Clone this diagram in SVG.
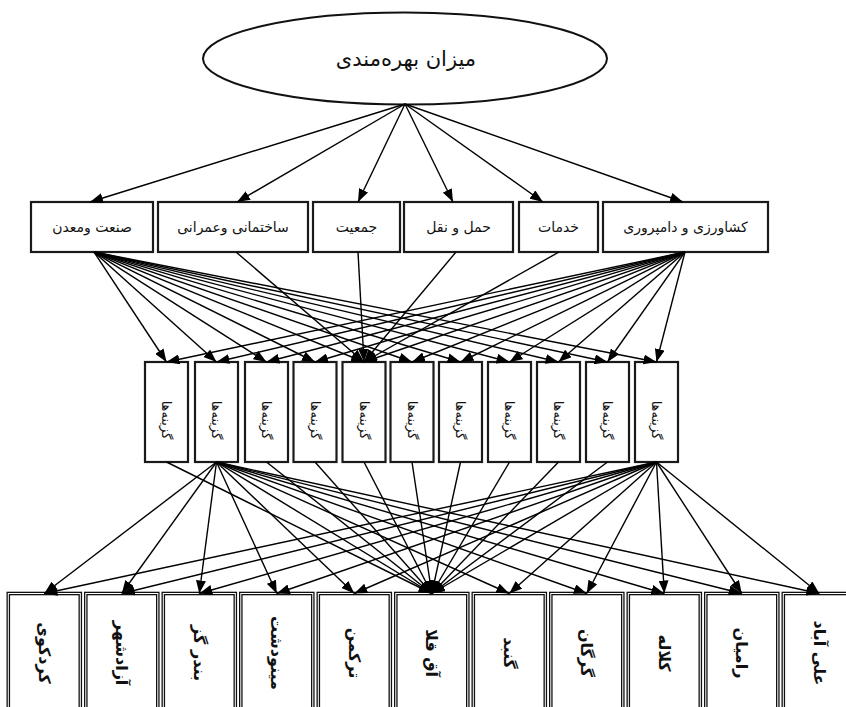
<svg xmlns="http://www.w3.org/2000/svg" width="846" height="707" viewBox="0 0 846 707">
<style>
text{font-family:"DejaVu Sans","Noto Sans",sans-serif;fill:#111;text-anchor:middle;dominant-baseline:central;direction:rtl}
.box{fill:#fff;stroke:#1a1a1a;stroke-width:2.2}
.bb{fill:#fff;stroke:#111;stroke-width:3.6}
.bbi{fill:none;stroke:#fff;stroke-width:1}
.c line{stroke:#000;stroke-width:1.4;marker-end:url(#ah)}
.t1{font-size:21px}
.t2{font-size:14px}
.t3{font-size:13px}
.t4{font-size:16px;font-weight:bold}
</style>
<defs>
<marker id="ah" markerUnits="userSpaceOnUse" markerWidth="13" markerHeight="10" refX="13" refY="5" orient="auto">
<path d="M0,0 L13,5 L0,10 z" fill="#000"/>
</marker>
</defs>
<rect width="846" height="707" fill="#fff"/>
<g id="root"><ellipse cx="405" cy="58.5" rx="202" ry="46" fill="#fff" stroke="#111" stroke-width="2"/><text class="t1" x="406" y="59">میزان بهره‌مندی</text></g>
<g id="crit1"><rect class="box" x="31" y="202" width="122" height="50"/><text class="t2" x="92" y="227">صنعت ومعدن</text></g>
<g id="crit2"><rect class="box" x="158" y="202" width="150" height="50"/><text class="t2" x="233" y="227">ساختمانی وعمرانی</text></g>
<g id="crit3"><rect class="box" x="313" y="202" width="87" height="50"/><text class="t2" x="356.5" y="227">جمعیت</text></g>
<g id="crit4"><rect class="box" x="404" y="202" width="109" height="50"/><text class="t2" x="458.5" y="227">حمل و نقل</text></g>
<g id="crit5"><rect class="box" x="519" y="202" width="79" height="50"/><text class="t2" x="558.5" y="227">خدمات</text></g>
<g id="crit6"><rect class="box" x="603" y="202" width="165" height="50"/><text class="t2" x="685.5" y="227">کشاورزی و دامپروری</text></g>
<g id="opt1"><rect class="box" x="145" y="362" width="43" height="100"/><text class="t3" transform="translate(166.5,420) rotate(90)">گزینه‌ها</text></g>
<g id="opt2"><rect class="box" x="195" y="362" width="43" height="100"/><text class="t3" transform="translate(216.5,420) rotate(90)">گزینه‌ها</text></g>
<g id="opt3"><rect class="box" x="245" y="362" width="43" height="100"/><text class="t3" transform="translate(266.5,420) rotate(90)">گزینه‌ها</text></g>
<g id="opt4"><rect class="box" x="293.5" y="362" width="43" height="100"/><text class="t3" transform="translate(315,420) rotate(90)">گزینه‌ها</text></g>
<g id="opt5"><rect class="box" x="342.5" y="362" width="43" height="100"/><text class="t3" transform="translate(364,420) rotate(90)">گزینه‌ها</text></g>
<g id="opt6"><rect class="box" x="390.5" y="362" width="43" height="100"/><text class="t3" transform="translate(412,420) rotate(90)">گزینه‌ها</text></g>
<g id="opt7"><rect class="box" x="439" y="362" width="43" height="100"/><text class="t3" transform="translate(460.5,420) rotate(90)">گزینه‌ها</text></g>
<g id="opt8"><rect class="box" x="488" y="362" width="43" height="100"/><text class="t3" transform="translate(509.5,420) rotate(90)">گزینه‌ها</text></g>
<g id="opt9"><rect class="box" x="537" y="362" width="43" height="100"/><text class="t3" transform="translate(558.5,420) rotate(90)">گزینه‌ها</text></g>
<g id="opt10"><rect class="box" x="586" y="362" width="43" height="100"/><text class="t3" transform="translate(607.5,420) rotate(90)">گزینه‌ها</text></g>
<g id="opt11"><rect class="box" x="635" y="362" width="43" height="100"/><text class="t3" transform="translate(656.5,420) rotate(90)">گزینه‌ها</text></g>
<g id="city1"><rect class="bb" x="8.3" y="593.5" width="72" height="130"/><rect class="bbi" x="8.3" y="593.5" width="72" height="130"/><text class="t4" transform="translate(44.3,653) rotate(90)">کردکوی</text></g>
<g id="city2"><rect class="bb" x="85.8" y="593.5" width="72" height="130"/><rect class="bbi" x="85.8" y="593.5" width="72" height="130"/><text class="t4" transform="translate(121.8,653) rotate(90)">آزادشهر</text></g>
<g id="city3"><rect class="bb" x="163.3" y="593.5" width="72" height="130"/><rect class="bbi" x="163.3" y="593.5" width="72" height="130"/><text class="t4" transform="translate(199.3,653) rotate(90)">بندر گز</text></g>
<g id="city4"><rect class="bb" x="240.8" y="593.5" width="72" height="130"/><rect class="bbi" x="240.8" y="593.5" width="72" height="130"/><text class="t4" transform="translate(276.8,653) rotate(90)">مینودشت</text></g>
<g id="city5"><rect class="bb" x="318.3" y="593.5" width="72" height="130"/><rect class="bbi" x="318.3" y="593.5" width="72" height="130"/><text class="t4" transform="translate(354.3,653) rotate(90)">ترکمن</text></g>
<g id="city6"><rect class="bb" x="395.8" y="593.5" width="72" height="130"/><rect class="bbi" x="395.8" y="593.5" width="72" height="130"/><text class="t4" transform="translate(431.8,653) rotate(90)">آق قلا</text></g>
<g id="city7"><rect class="bb" x="473.3" y="593.5" width="72" height="130"/><rect class="bbi" x="473.3" y="593.5" width="72" height="130"/><text class="t4" transform="translate(509.3,653) rotate(90)">گنبد</text></g>
<g id="city8"><rect class="bb" x="550.8" y="593.5" width="72" height="130"/><rect class="bbi" x="550.8" y="593.5" width="72" height="130"/><text class="t4" transform="translate(586.8,653) rotate(90)">گرگان</text></g>
<g id="city9"><rect class="bb" x="628.3" y="593.5" width="72" height="130"/><rect class="bbi" x="628.3" y="593.5" width="72" height="130"/><text class="t4" transform="translate(664.3,653) rotate(90)">کلاله</text></g>
<g id="city10"><rect class="bb" x="705.8" y="593.5" width="72" height="130"/><rect class="bbi" x="705.8" y="593.5" width="72" height="130"/><text class="t4" transform="translate(741.8,653) rotate(90)">رامیان</text></g>
<g id="city11"><rect class="bb" x="783.3" y="593.5" width="72" height="130"/><rect class="bbi" x="783.3" y="593.5" width="72" height="130"/><text class="t4" transform="translate(819.3,653) rotate(90)">علی آباد</text></g>
<g id="connectors" class="c">
<line x1="405" y1="104" x2="90" y2="202"/>
<line x1="405" y1="104" x2="237" y2="202"/>
<line x1="405" y1="104" x2="358" y2="202"/>
<line x1="405" y1="104" x2="453" y2="202"/>
<line x1="405" y1="104" x2="543" y2="202"/>
<line x1="405" y1="104" x2="683" y2="202"/>
<line x1="94" y1="252" x2="166.5" y2="362"/>
<line x1="94" y1="252" x2="216.5" y2="362"/>
<line x1="94" y1="252" x2="266.5" y2="362"/>
<line x1="94" y1="252" x2="315" y2="362"/>
<line x1="94" y1="252" x2="364" y2="362"/>
<line x1="94" y1="252" x2="412" y2="362"/>
<line x1="94" y1="252" x2="460.5" y2="362"/>
<line x1="94" y1="252" x2="509.5" y2="362"/>
<line x1="94" y1="252" x2="558.5" y2="362"/>
<line x1="94" y1="252" x2="607.5" y2="362"/>
<line x1="94" y1="252" x2="656.5" y2="362"/>
<line x1="685" y1="252" x2="166.5" y2="362"/>
<line x1="685" y1="252" x2="216.5" y2="362"/>
<line x1="685" y1="252" x2="266.5" y2="362"/>
<line x1="685" y1="252" x2="315" y2="362"/>
<line x1="685" y1="252" x2="364" y2="362"/>
<line x1="685" y1="252" x2="412" y2="362"/>
<line x1="685" y1="252" x2="460.5" y2="362"/>
<line x1="685" y1="252" x2="509.5" y2="362"/>
<line x1="685" y1="252" x2="558.5" y2="362"/>
<line x1="685" y1="252" x2="607.5" y2="362"/>
<line x1="685" y1="252" x2="656.5" y2="362"/>
<line x1="236" y1="252" x2="364" y2="362"/>
<line x1="358" y1="252" x2="364" y2="362"/>
<line x1="456" y1="252" x2="364" y2="362"/>
<line x1="559" y1="252" x2="364" y2="362"/>
<line x1="216.5" y1="462" x2="44.3" y2="593.5"/>
<line x1="216.5" y1="462" x2="121.8" y2="593.5"/>
<line x1="216.5" y1="462" x2="199.3" y2="593.5"/>
<line x1="216.5" y1="462" x2="276.8" y2="593.5"/>
<line x1="216.5" y1="462" x2="354.3" y2="593.5"/>
<line x1="216.5" y1="462" x2="431.8" y2="593.5"/>
<line x1="216.5" y1="462" x2="509.3" y2="593.5"/>
<line x1="216.5" y1="462" x2="586.8" y2="593.5"/>
<line x1="216.5" y1="462" x2="664.3" y2="593.5"/>
<line x1="216.5" y1="462" x2="741.8" y2="593.5"/>
<line x1="216.5" y1="462" x2="819.3" y2="593.5"/>
<line x1="656.5" y1="462" x2="44.3" y2="593.5"/>
<line x1="656.5" y1="462" x2="121.8" y2="593.5"/>
<line x1="656.5" y1="462" x2="199.3" y2="593.5"/>
<line x1="656.5" y1="462" x2="276.8" y2="593.5"/>
<line x1="656.5" y1="462" x2="354.3" y2="593.5"/>
<line x1="656.5" y1="462" x2="431.8" y2="593.5"/>
<line x1="656.5" y1="462" x2="509.3" y2="593.5"/>
<line x1="656.5" y1="462" x2="586.8" y2="593.5"/>
<line x1="656.5" y1="462" x2="664.3" y2="593.5"/>
<line x1="656.5" y1="462" x2="741.8" y2="593.5"/>
<line x1="656.5" y1="462" x2="819.3" y2="593.5"/>
<line x1="166.5" y1="462" x2="431.8" y2="593.5"/>
<line x1="266.5" y1="462" x2="431.8" y2="593.5"/>
<line x1="315" y1="462" x2="431.8" y2="593.5"/>
<line x1="364" y1="462" x2="431.8" y2="593.5"/>
<line x1="412" y1="462" x2="431.8" y2="593.5"/>
<line x1="460.5" y1="462" x2="431.8" y2="593.5"/>
<line x1="509.5" y1="462" x2="431.8" y2="593.5"/>
<line x1="558.5" y1="462" x2="431.8" y2="593.5"/>
<line x1="607.5" y1="462" x2="431.8" y2="593.5"/>
</g>
</svg>
